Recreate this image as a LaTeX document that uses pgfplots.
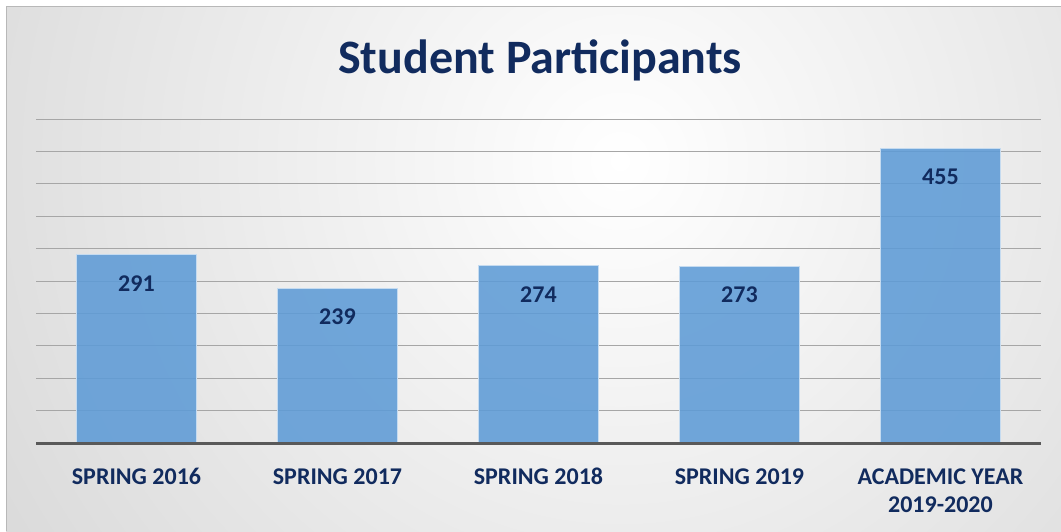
\documentclass[border=0pt]{standalone}
\usepackage{pgfplots}
\pgfplotsset{compat=1.18}
\usepackage{fontspec}
\setmainfont{Carlito}
\definecolor{navy}{HTML}{112B5E}
\definecolor{barblue}{HTML}{5E9BD6}
\definecolor{baredge}{HTML}{C5DBF0}
\definecolor{gridc}{HTML}{A6A6A6}
\begin{document}
\begin{tikzpicture}[x=1pt,y=1pt]
\fill[white] (0,0) rectangle (1061,531);
\useasboundingbox (0,0) rectangle (1061,531);
\begin{scope}
\clip (6,0) rectangle (1061,524);
\shade[inner color=white, outer color=black!26] (620,370) circle (1300);
\end{scope}
\draw[black!28, line width=1pt] (6,0) -- (6,524) -- (1061,524);
\node[font=\bfseries\fontsize{48}{54}\selectfont, text=navy] at (540,471) {Student Participants};
\begin{axis}[
  at={(36pt,88pt)}, anchor=south west,
  scale only axis, width=1005pt, height=324pt,
  xmin=-0.5, xmax=4.5, ymin=0, ymax=500,
  ybar, bar width=120pt,
  axis line style={draw=none},
  major tick length=0pt,
  ytick={50,100,...,500}, yticklabels={},
  ymajorgrids, grid style={gridc, line width=0.9pt},
  xtick=data,
  xticklabels={SPRING 2016\strut, SPRING 2017\strut, SPRING 2018\strut, SPRING 2019\strut, {ACADEMIC YEAR\strut\\2019-2020\strut}},
  xticklabel style={font=\bfseries\fontsize{24}{28}\selectfont, text=navy, align=center, anchor=north, yshift=-18pt},
  /pgf/number format/assume math mode=true,
  nodes near coords,
  nodes near coords style={font=\bfseries\fontsize{24}{28}\selectfont, text=navy, anchor=center, yshift=-29pt},
  clip=false,
]
\addplot[fill=barblue, fill opacity=0.88, draw=baredge, line width=1pt, text opacity=1] coordinates {(0,291) (1,239) (2,274) (3,273) (4,455)};
\draw[line width=3pt, color=black!65] (axis cs:-0.5,0) -- (axis cs:4.5,0);
\end{axis}
\end{tikzpicture}
\end{document}
